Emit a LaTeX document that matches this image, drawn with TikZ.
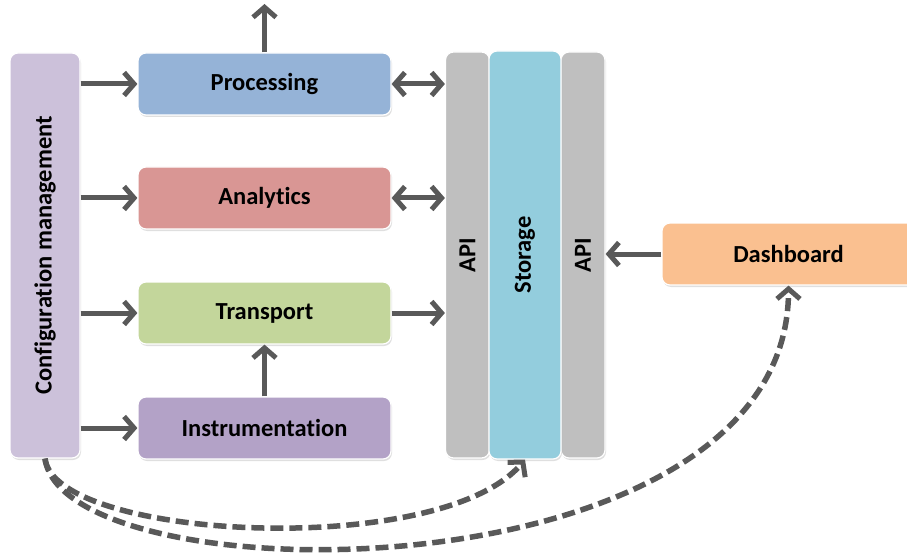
\documentclass[tikz,border=0pt]{standalone}
\usepackage{fontspec}
\usepackage{graphicx}
\setmainfont[Ligatures=NoCommon]{Carlito}
\usetikzlibrary{arrows.meta,shadows}
\definecolor{cfgc}{HTML}{CCC1DA}
\definecolor{procc}{HTML}{95B3D7}
\definecolor{anac}{HTML}{D99694}
\definecolor{trac}{HTML}{C3D69B}
\definecolor{insc}{HTML}{B3A2C7}
\definecolor{apic}{HTML}{BFBFBF}
\definecolor{storc}{HTML}{93CDDD}
\definecolor{dashc}{HTML}{FAC090}
\definecolor{arrc}{HTML}{595959}
\tikzset{
  box/.style={draw=white, line width=1.2pt, rounded corners=8pt, inner sep=0pt,
    font=\fontsize{24.5}{28}\selectfont\bfseries,
    drop shadow={opacity=0.25, shadow xshift=1pt, shadow yshift=-2pt}},
  hbox/.style={box, minimum width=253pt, minimum height=62pt},
  arr/.style={draw=arrc, line width=5pt, -{Straight Barb[length=10pt,width=23pt,line width=5pt]}},
  darr/.style={arr, {Straight Barb[length=10pt,width=23pt,line width=5pt]}-{Straight Barb[length=10pt,width=23pt,line width=5pt]}},
  dsh/.style={arr, line width=5.5pt, dash pattern=on 13pt off 6pt}
}
\begin{document}
\begin{tikzpicture}[x=1pt,y=-1pt]
\useasboundingbox (0,0) rectangle (907,556);
\node[box, fill=cfgc, minimum width=70pt, minimum height=405pt] (cfg) at (45,255.5) {\rotatebox{90}{Configuration management}};
\node[hbox, fill=procc] (proc) at (264.5,84) {Processing};
\node[hbox, fill=anac] (ana) at (264.5,198) {Analytics};
\node[hbox, fill=trac] (tra) at (264.5,313) {Transport};
\node[hbox, fill=insc] (ins) at (264.5,428) {Instrumentation};
\node[box, fill=apic, minimum width=44pt, minimum height=406pt] (apiL) at (467.5,255) {\rotatebox{90}{API}};
\node[box, fill=apic, minimum width=44pt, minimum height=406pt] (apiR) at (583,255) {\rotatebox{90}{API}};
\node[box, fill=storc, minimum width=72pt, minimum height=408pt] (stor) at (525,255) {\rotatebox{90}{Storage}};
\node[hbox, fill=dashc] (dash) at (788.5,254) {Dashboard};
\coordinate (top) at (264.5,4);
\draw[arr] (cfg.east |- proc) -- (proc.west);
\draw[arr] (cfg.east |- ana) -- (ana.west);
\draw[arr] (cfg.east |- tra) -- (tra.west);
\draw[arr] (cfg.east |- ins) -- (ins.west);
\draw[arr] (proc.north) -- (top);
\draw[arr] (ins.north) -- (tra.south);
\draw[darr] (proc.east) -- (apiL.west |- proc);
\draw[darr] (ana.east) -- (apiL.west |- ana);
\draw[arr] (tra.east) -- (apiL.west |- tra);
\draw[arr] (dash.west) -- (apiR.east |- dash);
\draw[dsh] (cfg.south) .. controls (55,540) and (440,560) .. (stor.south);
\draw[dsh] (cfg.south) .. controls (65,600) and (788,600) .. (dash.south);
\end{tikzpicture}
\end{document}
